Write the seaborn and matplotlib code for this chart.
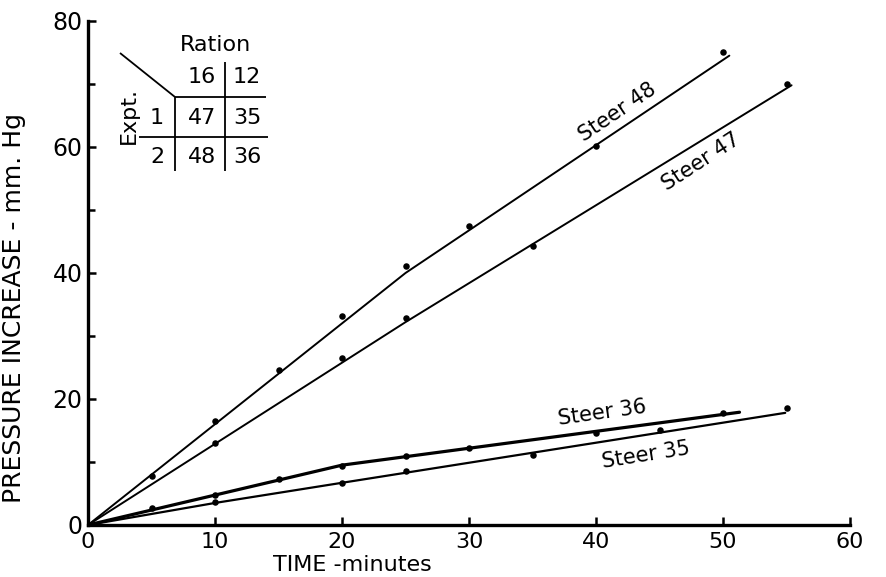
import numpy as np
import pandas as pd
import matplotlib
matplotlib.use("Agg")
import matplotlib.pyplot as plt
import seaborn as sns

# ---- observed points (minutes, mm Hg) ----
t48 = [5, 10, 15, 20, 25, 30, 40, 50]
p48 = [7.8, 16.5, 24.6, 33.2, 41.1, 47.5, 60.2, 75.0]
t47 = [10, 20, 25, 35, 55]
p47 = [13.0, 26.5, 32.9, 44.3, 70.0]
t36 = [5, 10, 15, 20, 25, 30, 40, 50]
p36 = [2.7, 4.8, 7.3, 9.4, 11.0, 12.2, 14.6, 17.8]
t35 = [10, 20, 25, 35, 45, 55]
p35 = [3.7, 6.7, 8.6, 11.1, 15.1, 18.6]

# ---- hand-drawn fitted lines ----
f48_t = [0, 25, 50.5]
f48_p = [0, 40.0, 74.5]
f47_t = [0, 25, 55.4]
f47_p = [0, 32.2, 69.8]
f36_t = [0, 20, 51.3]
f36_p = [0, 9.5, 17.9]
f35_t = [0, 10, 20, 54.9]
f35_p = [0, 3.5, 6.7, 17.8]

x_ticks = [0, 10, 20, 30, 40, 50, 60]
y_ticks = [0, 20, 40, 60, 80]

steers = ["Steer 48", "Steer 47", "Steer 36", "Steer 35"]

sns.set_style("ticks")
plt.rcParams["font.family"] = ["DejaVu Sans"]
plt.rcParams["text.color"] = "black"
plt.rcParams["axes.labelcolor"] = "black"
plt.rcParams["xtick.color"] = "black"
plt.rcParams["ytick.color"] = "black"
plt.rcParams["xtick.labelcolor"] = "black"
plt.rcParams["ytick.labelcolor"] = "black"

pts = pd.concat([
    pd.DataFrame({"t": t48, "p": p48, "steer": steers[0]}),
    pd.DataFrame({"t": t47, "p": p47, "steer": steers[1]}),
    pd.DataFrame({"t": t36, "p": p36, "steer": steers[2]}),
    pd.DataFrame({"t": t35, "p": p35, "steer": steers[3]}),
])
fits = {
    steers[0]: (f48_t, f48_p, 1.4),
    steers[1]: (f47_t, f47_p, 1.4),
    steers[2]: (f36_t, f36_p, 2.3),
    steers[3]: (f35_t, f35_p, 1.6),
}

fig = plt.figure(figsize=(8.86, 5.77), dpi=100)
ax = fig.add_axes([88/886, 52/577, 762/886, 504/577])

for name, (ft, fp, lw) in fits.items():
    sns.lineplot(x=ft, y=fp, ax=ax, color="black", linewidth=lw, sort=False,
                 estimator=None)

sns.scatterplot(data=pts, x="t", y="p", ax=ax, color="black", s=22,
                edgecolor="black", linewidth=0, zorder=5, legend=False)

ax.set_xlim(0, 60)
ax.set_ylim(0, 80)
ax.set_xticks(x_ticks)
ax.set_yticks(y_ticks)
ax.set_yticks([10, 30, 50, 70], minor=True)
ax.tick_params(axis="both", which="both", direction="in", width=1.8,
               color="black", labelcolor="black")
ax.tick_params(axis="y", labelsize=17, pad=4)
ax.tick_params(axis="x", labelsize=16, pad=5)
ax.tick_params(axis="both", which="major", length=6)
ax.tick_params(axis="both", which="minor", length=5)
for s in ["top", "right"]:
    ax.spines[s].set_visible(False)
for s in ["left", "bottom"]:
    ax.spines[s].set_linewidth(2.4)
    ax.spines[s].set_color("black")

ax.set_xlabel("TIME -minutes", fontsize=16, color="black")
ax.xaxis.set_label_coords((352 - 88) / 762, -0.059)
ax.set_ylabel("PRESSURE INCREASE - mm. Hg", fontsize=18, color="black")
ax.yaxis.set_label_coords(-0.082, 0.43)

# curve labels
def px(x, y):
    return ((x - 88) / 12.7, (525 - y) / 6.3)

ax.text(*px(617, 112), steers[0], fontsize=15, rotation=34,
        ha="center", va="center")
ax.text(*px(701, 162), steers[1], fontsize=15, rotation=33,
        ha="center", va="center")
ax.text(*px(602, 413), steers[2], fontsize=15, rotation=8,
        ha="center", va="center")
ax.text(*px(646, 455), steers[3], fontsize=15, rotation=9,
        ha="center", va="center")

# inset table
tfs = 16
ax.text(*px(215, 45), "Ration", fontsize=tfs, ha="center", va="center")
ax.text(*px(202, 77), "16", fontsize=tfs, ha="center", va="center")
ax.text(*px(247, 77), "12", fontsize=tfs, ha="center", va="center")
ax.text(*px(129, 115), "Expt.", fontsize=tfs, ha="center", va="center",
        rotation=90)
ax.text(*px(157, 118), "1", fontsize=tfs, ha="center", va="center")
ax.text(*px(202, 118), "47", fontsize=tfs, ha="center", va="center")
ax.text(*px(247, 118), "35", fontsize=tfs, ha="center", va="center")
ax.text(*px(157, 157), "2", fontsize=tfs, ha="center", va="center")
ax.text(*px(202, 157), "48", fontsize=tfs, ha="center", va="center")
ax.text(*px(247, 157), "36", fontsize=tfs, ha="center", va="center")

def seg(a, b, lw=1.3):
    (x0, y0), (x1, y1) = px(*a), px(*b)
    ax.plot([x0, x1], [y0, y1], color="black", linewidth=lw,
            solid_capstyle="butt", clip_on=False)

seg((120, 53), (175, 97))
seg((175, 97), (266, 97))
seg((139, 137), (268, 137))
seg((175, 97), (175, 171))
seg((225, 62), (225, 171))

fig.savefig("out.png", dpi=100)
